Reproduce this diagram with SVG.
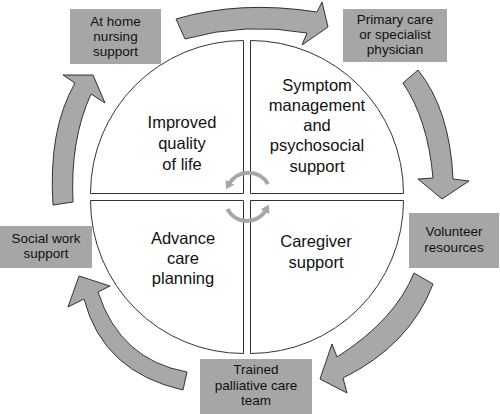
<svg xmlns="http://www.w3.org/2000/svg" width="500" height="414" viewBox="0 0 500 414">
<defs>
<style>
.box{fill:#a6a6a6}
.bt{font-family:"Liberation Sans",Arial,sans-serif;font-size:13.5px;fill:#111;text-anchor:middle}
.qt{font-family:"Liberation Sans",Arial,sans-serif;font-size:16.5px;fill:#111;text-anchor:middle}
.quad{fill:#fff;stroke:#333;stroke-width:1}
.big{fill:#a8a8a8;stroke:#333;stroke-width:1;stroke-linejoin:miter}
.small{fill:none;stroke:#a6a6a6;stroke-width:4;marker-end:url(#head)}
</style>
<marker id="head" markerUnits="userSpaceOnUse" markerWidth="12" markerHeight="12" refX="2" refY="6" orient="auto">
<path d="M0,1 L8,6 L0,11 Z" fill="#a6a6a6"/>
</marker>
</defs>
<rect width="500" height="414" fill="#fff"/>
<g id="quadrants">
<g id="q-tl"><path class="quad" d="M243.5,193.5 V40.5 A153,153 0 0 0 90.5,193.5 Z"/>
<text class="qt" x="182" y="128">Improved</text><text class="qt" x="182" y="149">quality</text><text class="qt" x="182" y="170">of life</text></g>
<g id="q-tr"><path class="quad" d="M250.5,193.5 H403.5 A153,153 0 0 0 250.5,40.5 Z"/>
<text class="qt" x="317" y="91">Symptom</text><text class="qt" x="317" y="111">management</text><text class="qt" x="317" y="131">and</text><text class="qt" x="317" y="151">psychosocial</text><text class="qt" x="317" y="172">support</text></g>
<g id="q-bl"><path class="quad" d="M243.5,200.5 H90.5 A153,153 0 0 0 243.5,353.5 Z"/>
<text class="qt" x="183" y="244">Advance</text><text class="qt" x="183" y="264">care</text><text class="qt" x="183" y="284">planning</text></g>
<g id="q-br"><path class="quad" d="M250.5,200.5 V353.5 A153,153 0 0 0 403.5,200.5 Z"/>
<text class="qt" x="316" y="247">Caregiver</text><text class="qt" x="316" y="268">support</text></g>
</g>
<g id="cycle">
<path class="small" d="M268,184 A22.5,22.5 0 0 0 229,184"/>
<path class="small" d="M227.4,209 A22,22 0 0 0 266,210"/>
</g>
<g id="connectors">
<path class="big" d="M176,19 Q240,0 317,12 L322,2 L328,27 L302,45 L307,33 Q245,22 185,39 Z"/>
<path class="big" d="M418,70 Q450,110 453,179 L469,181 L442,199 L418,179 L433,178 Q428,120 403,83 Z"/>
<path class="big" d="M433,284 Q410,345 343,378 L347,393 L320,379 L332,344 L337,357 Q395,320 414,273 Z"/>
<path class="big" d="M187,372 Q120,360 98,292 L110,286 L79,276 L68,307 L84,299 Q103,372 183,390 Z"/>
<path class="big" d="M53,205 Q48,130 75,83 L63,75 L93,75 L105,103 L91,94 Q70,140 73,202 Z"/>
</g>
<g id="n-home"><rect class="box" x="70" y="9" width="91" height="55"/>
<text class="bt" x="115.5" y="26">At home</text><text class="bt" x="115.5" y="41">nursing</text><text class="bt" x="115.5" y="56">support</text></g>
<g id="n-primary"><rect class="box" x="343" y="9" width="104" height="53"/>
<text class="bt" x="395" y="24">Primary care</text><text class="bt" x="395" y="39">or specialist</text><text class="bt" x="395" y="54">physician</text></g>
<g id="n-volunteer"><rect class="box" x="409" y="213" width="90" height="55"/>
<text class="bt" x="454" y="236">Volunteer</text><text class="bt" x="454" y="252">resources</text></g>
<g id="n-team"><rect class="box" x="200" y="359" width="112" height="55"/>
<text class="bt" x="256" y="374">Trained</text><text class="bt" x="256" y="390">palliative care</text><text class="bt" x="256" y="405">team</text></g>
<g id="n-social"><rect class="box" x="0" y="226" width="92" height="42"/>
<text class="bt" x="46" y="243">Social work</text><text class="bt" x="46" y="258">support</text></g>
</svg>
